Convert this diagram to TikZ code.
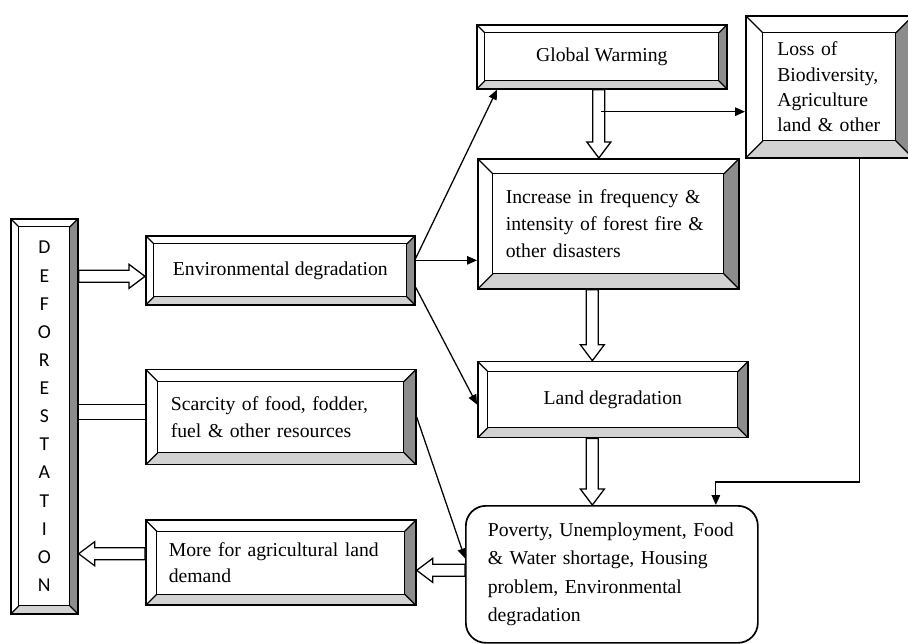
\documentclass[tikz,border=0pt]{standalone}
\usepackage{fontspec}
\setmainfont{Liberation Serif}
\newfontfamily\letterfont{Carlito}
\usepackage{tikz}
\usetikzlibrary{positioning, calc, arrows.meta}

\def\pxu{0.025cm}
\def\arwShaft{0.15cm}
\def\arwHead{0.3cm}
\def\arwLen{0.4cm}
\definecolor{bevdark}{HTML}{8C8C8C}
\definecolor{bevlight}{HTML}{D2D2D2}

\tikzset{
  bevel/.style={draw=black, line width=1.2pt, fill=white, inner sep=0pt,
    font=\fontsize{14}{19}\selectfont,
    path picture={
      \coordinate (bNE) at (path picture bounding box.north east);
      \coordinate (bNW) at (path picture bounding box.north west);
      \coordinate (bSE) at (path picture bounding box.south east);
      \coordinate (bSW) at (path picture bounding box.south west);
      \fill[bevdark] (bNE) -- (bSE) -- ([shift={(-#1*\pxu,#1*\pxu)}]bSE) -- ([shift={(-#1*\pxu,-#1*\pxu)}]bNE) -- cycle;
      \fill[bevlight] (bSW) -- (bSE) -- ([shift={(-#1*\pxu,#1*\pxu)}]bSE) -- ([shift={(#1*\pxu,#1*\pxu)}]bSW) -- cycle;
      \draw[line width=0.9pt] ([shift={(#1*\pxu,-#1*\pxu)}]bNW) rectangle ([shift={(-#1*\pxu,#1*\pxu)}]bSE);
      \draw[line width=0.9pt] (bNW) -- ([shift={(#1*\pxu,-#1*\pxu)}]bNW)
        (bNE) -- ([shift={(-#1*\pxu,-#1*\pxu)}]bNE)
        (bSE) -- ([shift={(-#1*\pxu,#1*\pxu)}]bSE)
        (bSW) -- ([shift={(#1*\pxu,#1*\pxu)}]bSW);
    }},
  letters/.style={font=\letterfont\fontsize{14}{20}\selectfont, align=center},
  roundbox/.style={draw=black, line width=1.2pt, rounded corners=0.5cm, fill=white, inner sep=0pt,
    font=\fontsize{14}{20}\selectfont},
  arrow/.style={line width=0.9pt, -{Triangle[length=7pt, width=6pt]}},
  pair/.style={line width=0.9pt, double, double distance=0.33cm},
  hollow/.style={draw=black, line width=0.9pt, fill=white, to path={
    let \p1=(\tikztostart), \p2=(\tikztotarget), \p3=($(\p2)!\arwLen!(\p1)$) in
    ($(\p1)!\arwShaft!90:(\p2)$) -- ($(\p3)!\arwShaft!90:(\p2)$) -- ($(\p3)!\arwHead!90:(\p2)$) -- (\p2)
    -- ($(\p3)!\arwHead!-90:(\p2)$) -- ($(\p3)!\arwShaft!-90:(\p2)$) -- ($(\p1)!\arwShaft!-90:(\p2)$) -- cycle}},
}

\begin{document}
\begin{tikzpicture}[x=0.025cm, y=-0.025cm]
  \useasboundingbox (0,0) rectangle (908,644);

  \node (Defor)[bevel=8, letters, minimum width=67*\pxu, minimum height=395*\pxu, anchor=north west] at (10,218)
    {D\\E\\F\\O\\R\\E\\S\\T\\A\\T\\I\\O\\N};
  \node (Env)[bevel=8, minimum width=269*\pxu, minimum height=69*\pxu, anchor=north west] at (145,235)
    {Environmental degradation};
  \node (Scar)[bevel=12, minimum width=270*\pxu, minimum height=95*\pxu, text width=220*\pxu, align=left,
    below=1.575cm of Env.south west, anchor=north west]
    {Scarcity of food, fodder,\\fuel \& other resources};
  \node (More)[bevel=11, minimum width=270*\pxu, minimum height=85*\pxu, text width=224*\pxu, align=left,
    below=1.35cm of Scar.south west, anchor=north west]
    {More for agricultural land\\demand};
  \node (GW)[bevel=8, minimum width=250*\pxu, minimum height=64*\pxu, anchor=north west] at (476,24)
    {Global Warming};
  \node (Loss)[bevel=17, font=\fontsize{14}{18}\selectfont, minimum width=167*\pxu, minimum height=142*\pxu,
    text width=104*\pxu, align=left, anchor=north west] at (745,15)
    {Loss of\\Biodiversity,\\Agriculture\\land \& other};
  \node (Inc)[bevel=15, minimum width=261*\pxu, minimum height=130*\pxu, text width=205*\pxu, align=left,
    anchor=north west] at (477,158)
    {Increase in frequency \&\\intensity of forest fire \&\\other disasters};
  \node (Land)[bevel=10, minimum width=270*\pxu, minimum height=76*\pxu,
    below=1.775cm of Inc.south west, anchor=north west]
    {Land degradation};
  \node (Pov)[roundbox, minimum width=292*\pxu, minimum height=137*\pxu, text width=248*\pxu, align=left,
    anchor=north west] at (465,505)
    {Poverty, Unemployment, Food\\\& Water shortage, Housing\\problem, Environmental\\degradation};

  \coordinate (EnvIn) at ($(Env.west)+(0,6)$);
  \coordinate (ScarIn) at ($(Scar.west)+(0,-5)$);
  \coordinate (MoreOut) at ($(More.west)+(0,-9)$);
  \coordinate (PovOut) at ($(Pov.west)+(0,-4)$);
  \coordinate (EnvUp) at ($(Env.east)+(0,-12)$);
  \coordinate (EnvMid) at ($(Env.east)+(0,-10)$);
  \coordinate (EnvLow) at ($(Env.east)+(0,17)$);
  \coordinate (GWOut) at ($(GW.south)+(-3,0)$);
  \coordinate (Split) at ($(GWOut)+(2,22)$);
  \coordinate (IncOut) at ($(Inc.south)+(-16,0)$);
  \coordinate (LandOut) at (IncOut |- Land.south);

  \draw[hollow] (Defor.east |- EnvIn) to (EnvIn);
  \draw[pair] (Defor.east |- ScarIn) -- (ScarIn);
  \draw[hollow] (MoreOut) to (MoreOut -| Defor.east);
  \draw[hollow] (PovOut) to (PovOut -| More.east);
  \draw[hollow] (GWOut) to (GWOut |- Inc.north);
  \draw[hollow] (IncOut) to (IncOut |- Land.north);
  \draw[hollow] (LandOut) to (LandOut |- Pov.north);

  \draw[arrow] (EnvUp) -- ($(GW.south west)+(21,0)$);
  \draw[arrow] (EnvMid) -- (EnvMid -| Inc.west);
  \draw[arrow] (EnvLow) -- ($(Land.west)+(0,5)$);
  \draw[arrow] (Scar.east) -- ($(Pov.west)+(0,-16)$);
  \draw[arrow] (Split) -- (Split -| Loss.west);
  \draw[arrow] ($(Loss.south)+(30,0)$) |- ($(Pov.north)+(104,-23)$) -- ($(Pov.north)+(104,0)$);
\end{tikzpicture}
\end{document}
